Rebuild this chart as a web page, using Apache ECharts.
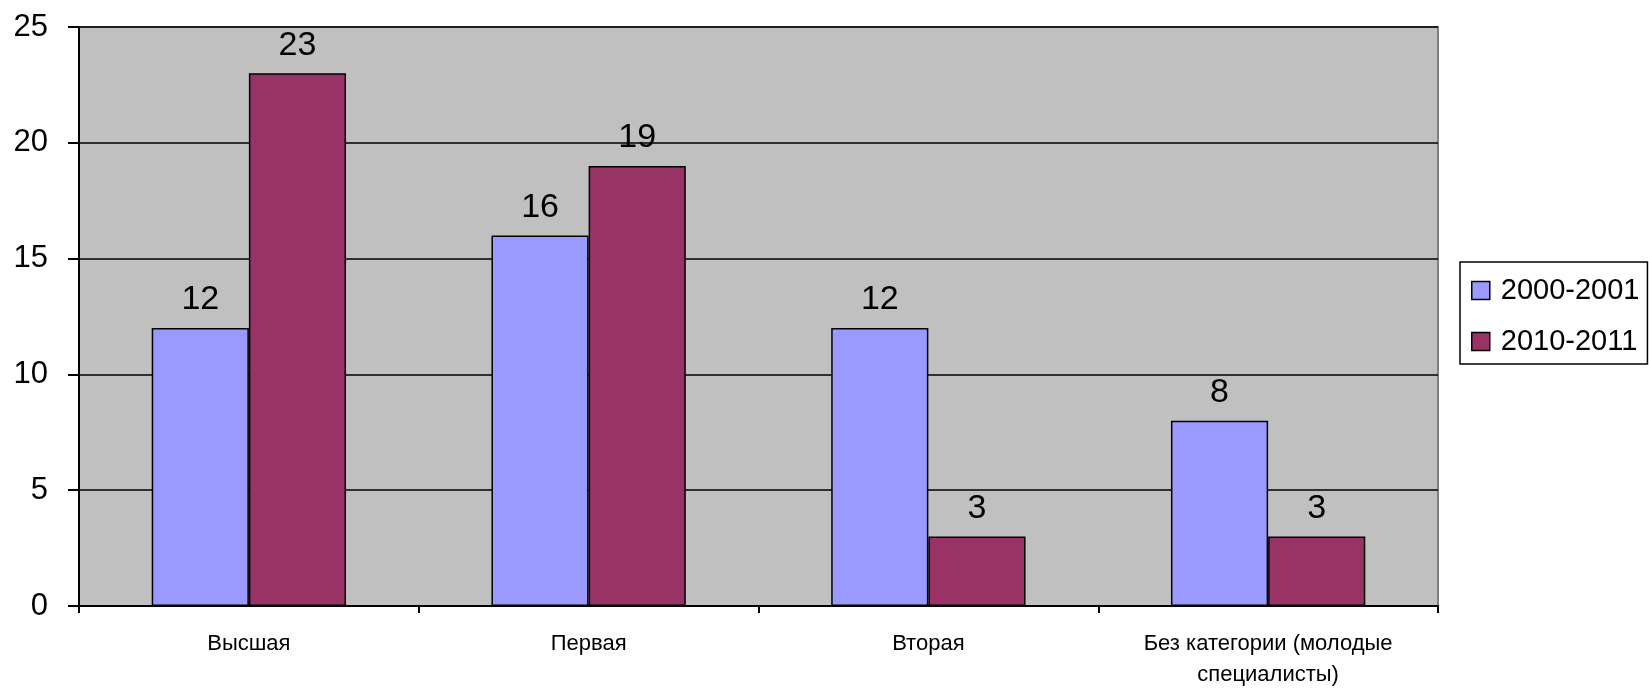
<!DOCTYPE html>
<html>
<head>
<meta charset="utf-8">
<script src="https://cdn.jsdelivr.net/npm/echarts@6/dist/echarts.min.js"></script>
<style>
html,body{margin:0;padding:0;background:#fff;}
#chart{width:1649px;height:690px;}
</style>
</head>
<body>
<div id="chart"></div>
<script>
const categories = ['Высшая', 'Первая', 'Вторая', 'Без категории (молодые\nспециалисты)'];
const seriesNames = ['2000-2001', '2010-2011'];
const values2000 = [12, 16, 12, 8];
const values2010 = [23, 19, 3, 3];
const yTicks = [0, 5, 10, 15, 20, 25];

const FONT = "'Liberation Sans', Arial, sans-serif";
const chart = echarts.init(document.getElementById('chart'), null, {renderer: 'canvas'});

const labelCfg = {
  show: true, position: 'top', distance: 11,
  color: '#000', fontSize: 34, fontFamily: FONT
};

chart.setOption({
  animation: false,
  backgroundColor: '#fff',
  grid: {
    left: 79, top: 27, right: 211, bottom: 83,
    show: true, backgroundColor: '#C0C0C0',
    borderColor: '#808080', borderWidth: 2
  },
  legend: {
    orient: 'vertical',
    left: 1460, top: 262,
    padding: [14, 8, 8, 11],
    borderColor: '#000', borderWidth: 1.5,
    itemWidth: 18, itemHeight: 18, itemGap: 22,
    icon: 'rect',
    itemStyle: {borderColor: '#000', borderWidth: 1.5},
    textStyle: {fontSize: 29, fontFamily: FONT, color: '#000', padding: [0, 0, 0, 6]},
    data: seriesNames
  },
  xAxis: {
    type: 'category',
    data: categories,
    axisLine: {lineStyle: {color: '#000', width: 2}},
    axisTick: {show: true, length: 7, lineStyle: {color: '#000', width: 2}},
    axisLabel: {
      color: '#000', fontSize: 22, fontFamily: FONT,
      margin: 22, lineHeight: 31, interval: 0
    }
  },
  yAxis: {
    type: 'value',
    min: yTicks[0], max: yTicks[yTicks.length - 1], interval: 5,
    axisLine: {show: true, lineStyle: {color: '#000', width: 2}},
    axisTick: {show: true, length: 11, lineStyle: {color: '#000', width: 2}},
    axisLabel: {color: '#000', fontSize: 31, fontFamily: FONT, margin: 31},
    splitLine: {show: true, lineStyle: {color: '#000', width: 1.5}}
  },
  series: [
    {
      name: seriesNames[0], type: 'bar', data: values2000,
      barWidth: '28.6%', barGap: '0%',
      itemStyle: {color: '#9999FF', borderColor: '#000', borderWidth: 1.5},
      label: labelCfg
    },
    {
      name: seriesNames[1], type: 'bar', data: values2010,
      barWidth: '28.6%', barGap: '0%',
      itemStyle: {color: '#993366', borderColor: '#000', borderWidth: 1.5},
      label: labelCfg
    }
  ]
});
</script>
</body>
</html>
